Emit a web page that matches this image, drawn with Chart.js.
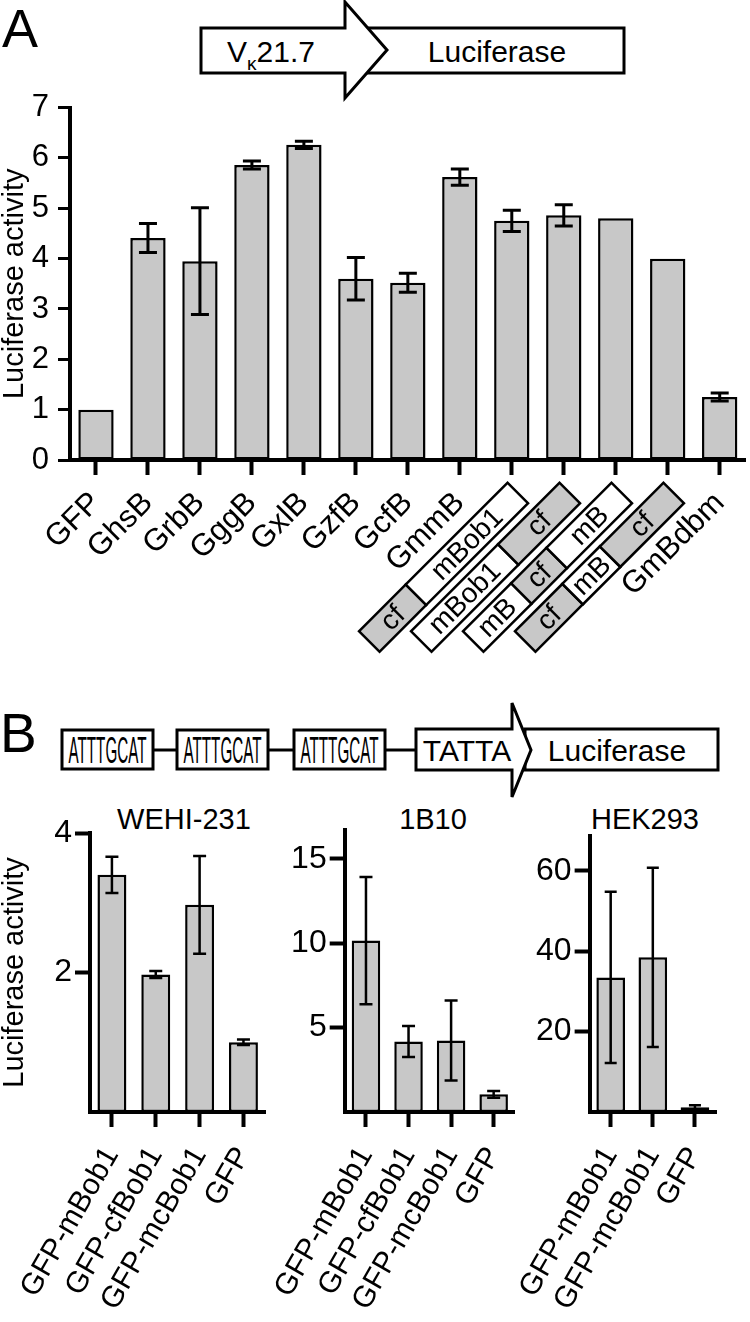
<!DOCTYPE html>
<html>
<head>
<meta charset="utf-8">
<script src="https://cdn.jsdelivr.net/npm/chart.js@4.4.0/dist/chart.umd.min.js"></script>
<style>
  body { margin: 0; width: 750px; height: 1322px; position: relative; background: #fff; overflow: hidden; }
  svg, canvas { position: absolute; }
</style>
</head>
<body>
<svg id="art" width="750" height="1322" style="left:0;top:0" font-family="Liberation Sans, Arial, sans-serif">
  <!-- panel A construct -->
  <text x="2" y="47" font-size="54">A</text>
  <rect x="360" y="28" width="264" height="45" fill="#fff" stroke="#000" stroke-width="3"/>
  <polygon points="201,28 345,28 345,2 387,50 345,98 345,73 201,73" fill="#fff" stroke="#000" stroke-width="3"/>
  <text x="227" y="62" font-size="30">V<tspan font-size="19" dy="8">κ</tspan><tspan dy="-8">21.7</tspan></text>
  <text x="497" y="62" font-size="30" text-anchor="middle">Luciferase</text>

  <!-- panel B construct -->
  <text x="0" y="752" font-size="55">B</text>
  <g stroke="#000" stroke-width="3">
    <line x1="153" y1="750" x2="177" y2="750"/>
    <line x1="268" y1="750" x2="294" y2="750"/>
    <line x1="385" y1="750" x2="416" y2="750"/>
    <rect x="62" y="730" width="91" height="39" fill="#fff"/>
    <rect x="177" y="730" width="91" height="39" fill="#fff"/>
    <rect x="294" y="730" width="91" height="39" fill="#fff"/>
    <rect x="525" y="729" width="193" height="41" fill="#fff"/>
    <polygon points="416,729 512,729 512,703 531,750 512,797 512,770 416,770" fill="#fff"/>
  </g>
  <g font-size="36" text-anchor="middle">
    <text x="107.5" y="763" textLength="78" lengthAdjust="spacingAndGlyphs">ATTTGCAT</text>
    <text x="222.5" y="763" textLength="78" lengthAdjust="spacingAndGlyphs">ATTTGCAT</text>
    <text x="339.5" y="763" textLength="78" lengthAdjust="spacingAndGlyphs">ATTTGCAT</text>
  </g>
  <text x="467" y="761" font-size="30" text-anchor="middle">TATTA</text>
  <text x="617" y="761" font-size="30" text-anchor="middle">Luciferase</text>

  <!-- panel B chart titles -->
  <g font-size="29" text-anchor="middle">
    <text x="184" y="829">WEHI-231</text>
    <text x="433" y="829">1B10</text>
    <text x="645" y="829">HEK293</text>
  </g>
</svg>

<canvas id="chartA" width="756" height="580" style="left:0;top:80px"></canvas>
<canvas id="chartWehi" width="290" height="522" style="left:0;top:800px"></canvas>
<canvas id="chart1b10" width="280" height="522" style="left:260px;top:800px"></canvas>
<canvas id="chartHek" width="250" height="522" style="left:500px;top:800px"></canvas>

<script>
// ---- panel A data ----
const catsA = ['GFP', 'GhsB', 'GrbB', 'GggB', 'GxlB', 'GzfB', 'GcfB', 'GmmB',
               'cf-mBob1', 'mBob1-cf', 'mB-cf-mB', 'cf-mB-cf', 'GmBdbm'];
const meanA = [1.00, 4.41, 3.95, 5.86, 6.26, 3.60, 3.52, 5.62, 4.75, 4.86, 4.80, 4.00, 1.25];
const errA  = [null, 0.29, 1.06, 0.08, 0.07, 0.42, 0.19, 0.16, 0.21, 0.21, null, null, 0.08];
const yLabelsA = [0, 1, 2, 3, 4, 5, 6, 7];

// ---- panel B data ----
const catsWehi = ['GFP-mBob1', 'GFP-cfBob1', 'GFP-mcBob1', 'GFP'];
const meanWehi = [3.40, 1.97, 2.97, 1.00];
const errWehi  = [0.26, 0.05, 0.70, 0.04];
const ticksWehi = [2, 4];

const cats1b10 = ['GFP-mBob1', 'GFP-cfBob1', 'GFP-mcBob1', 'GFP'];
const mean1b10 = [10.15, 4.17, 4.23, 1.05];
const err1b10  = [3.77, 0.92, 2.37, 0.20];
const ticks1b10 = [5, 10, 15];

const catsHek = ['GFP-mBob1', 'GFP-mcBob1', 'GFP'];
const meanHek = [33.5, 38.5, 1.2];
const errHek  = [21.3, 22.3, 0.5];
const ticksHek = [20, 40, 60];

const FONT = 'Liberation Sans, Arial, sans-serif';
const GREY = '#c8c8c8';
Chart.defaults.font.family = FONT;
Chart.defaults.color = '#000';

// segment lengths (px) for the fusion construct labels, read left to right
const SEG_LEN = {
  'cf-mBob1': [66, 144],
  'mBob1-cf': [123, 87],
  'mB-cf-mB': [68, 50, 92],
  'cf-mB-cf': [67, 53, 90]
};

const errorBarPlugin = {
  id: 'errorBars',
  afterDatasetsDraw(chart, args, opts) {
    const ds = chart.data.datasets[0];
    const meta = chart.getDatasetMeta(0);
    const y = chart.scales.y;
    const ctx = chart.ctx;
    ctx.save();
    ctx.strokeStyle = '#000';
    ctx.lineWidth = opts.width || 2.5;
    meta.data.forEach((bar, i) => {
      const e = ds.errors[i];
      if (e == null) return;
      const v = ds.data[i];
      const yt = y.getPixelForValue(v + e), yb = y.getPixelForValue(v - e);
      const c = opts.cap / 2;
      ctx.beginPath();
      ctx.moveTo(bar.x, yt); ctx.lineTo(bar.x, yb);
      ctx.moveTo(bar.x - c, yt); ctx.lineTo(bar.x + c, yt);
      ctx.moveTo(bar.x - c, yb); ctx.lineTo(bar.x + c, yb);
      ctx.stroke();
    });
    ctx.restore();
  }
};

const constructPlugin = {
  id: 'constructs',
  afterDraw(chart) {
    const ctx = chart.ctx, xs = chart.scales.x;
    const axisY = chart.chartArea.bottom;
    chart.data.labels.forEach((lab, i) => {
      const lens = SEG_LEN[lab];
      if (!lens) return;
      const segs = lab.split('-');
      const total = lens.reduce((a, b) => a + b, 0);
      ctx.save();
      ctx.translate(xs.getPixelForTick(i) + 6, axisY + 33);
      ctx.rotate(-Math.PI / 4);
      ctx.lineWidth = 2.5;
      ctx.strokeStyle = '#000';
      ctx.font = '28px ' + FONT;
      ctx.textAlign = 'center';
      ctx.textBaseline = 'middle';
      let x = -total;
      segs.forEach((s, k) => {
        ctx.fillStyle = s === 'cf' ? GREY : '#fff';
        ctx.fillRect(x, -14.5, lens[k], 29);
        ctx.strokeRect(x, -14.5, lens[k], 29);
        ctx.fillStyle = '#000';
        ctx.fillText(s, x + lens[k] / 2, 1);
        x += lens[k];
      });
      ctx.restore();
    });
  }
};

function barChart(id, cats, means, errs, o) {
  return new Chart(document.getElementById(id), {
    type: 'bar',
    data: {
      labels: cats,
      datasets: [{
        data: means,
        errors: errs,
        backgroundColor: GREY,
        borderColor: '#000',
        borderWidth: 2.5,
        borderSkipped: false,
        barPercentage: o.barPct,
        categoryPercentage: 1
      }]
    },
    options: {
      responsive: false,
      animation: false,
      layout: { padding: { top: o.padTop, right: o.padRight, left: 0, bottom: 0 } },
      plugins: {
        legend: { display: false },
        tooltip: { enabled: false },
        errorBars: { cap: o.cap, width: o.errW }
      },
      scales: {
        x: {
          grid: { offset: false, drawOnChartArea: false, tickLength: 15, tickWidth: 4, tickColor: '#000' },
          border: { color: '#000', width: 4 },
          ticks: {
            autoSkip: false, minRotation: o.rot, maxRotation: o.rot,
            padding: o.xPad, color: '#000',
            font: { size: o.xFont },
            callback: function (v) {
              const lab = this.getLabelForValue(v);
              return SEG_LEN[lab] ? '' : lab;
            }
          },
          afterFit: s => { s.height = o.xH; }
        },
        y: {
          min: 0, max: o.yMax,
          grid: { drawOnChartArea: false, tickLength: o.yTick, tickWidth: o.yTickW, tickColor: '#000' },
          border: { color: '#000', width: 4 },
          ticks: {
            stepSize: o.step, padding: o.yPad, color: '#000',
            font: { size: o.yFont },
            callback: v => (o.yLabels ? (o.yLabels.includes(v) ? String(v) : '') : String(v))
          },
          afterBuildTicks: o.yTicks ? (s => { s.ticks = o.yTicks.map(v => ({ value: v })); }) : undefined,
          title: o.yTitle ? {
            display: true, text: 'Luciferase activity', color: '#000',
            font: { size: 29, lineHeight: 1 }, padding: { top: 0, bottom: 0 }
          } : { display: false },
          afterFit: s => { s.width = o.yW; }
        }
      }
    },
    plugins: o.extra ? [errorBarPlugin, o.extra] : [errorBarPlugin]
  });
}

barChart('chartA', catsA, meanA, errA, {
  barPct: 0.68, padTop: 20, padRight: 0, xH: 200, yW: 70,
  rot: 45, xPad: 10, xFont: 31, yFont: 31, yPad: 9, yTick: 12, yTickW: 3,
  yMax: 7, step: 0.5, yLabels: yLabelsA, yTitle: true,
  cap: 18, errW: 3, extra: constructPlugin
});

barChart('chartWehi', catsWehi, meanWehi, errWehi, {
  barPct: 0.66, padTop: 33, padRight: 11, xH: 210, yW: 90,
  rot: 60, xPad: 14, xFont: 30, yFont: 32, yPad: 3, yTick: 15, yTickW: 4,
  yMax: 4, yTicks: ticksWehi, yTitle: true, cap: 13, errW: 2.5
});

barChart('chart1b10', cats1b10, mean1b10, err1b10, {
  barPct: 0.67, padTop: 30, padRight: 15, xH: 210, yW: 79,
  rot: 60, xPad: 14, xFont: 30, yFont: 32, yPad: 3, yTick: 15, yTickW: 4,
  yMax: 16.7, yTicks: ticks1b10, yTitle: false, cap: 13, errW: 2.5
});

barChart('chartHek', catsHek, meanHek, errHek, {
  barPct: 0.68, padTop: 36, padRight: 34, xH: 210, yW: 80,
  rot: 60, xPad: 14, xFont: 30, yFont: 32, yPad: 3, yTick: 15, yTickW: 4,
  yMax: 68.7, yTicks: ticksHek, yTitle: false, cap: 12, errW: 2.5
});
</script>
</body>
</html>
